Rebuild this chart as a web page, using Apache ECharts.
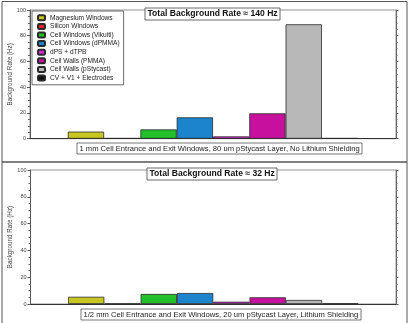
<!DOCTYPE html>
<html>
<head>
<meta charset="utf-8">
<script src="https://cdn.jsdelivr.net/npm/echarts@6/dist/echarts.min.js"></script>
<style>
  html, body { margin: 0; padding: 0; background: #fff; }
  #chart { width: 410px; height: 323px; }
</style>
</head>
<body>
<div id="chart"></div>
<script>
// Background contributions (Hz) per source, for the two detector configurations
const sources = [
  'Magnesium Windows', 'Silicon Windows', 'Cell Windows (Vikuiti)', 'Cell Windows (dPMMA)',
  'dPS + dTPB', 'Cell Walls (PMMA)', 'Cell Walls (pStycast)', 'CV + V1 + Electrodes'
];
const sourceColors = ['#c8c620', '#e02424', '#22c02a', '#1c84cc', '#d828d0', '#c8109e', '#b8b8b8', '#111111'];
const ratesThick = [5.5, 0.5, 7.2, 16.6, 1.8, 19.7, 88.9, 0.5];
const ratesThin = [5.4, 0.3, 7.5, 8.2, 1.7, 5.0, 3.0, 0.4];
const panelTitles = ['Total Background Rate \u2248 140 Hz', 'Total Background Rate \u2248 32 Hz'];
const panelNotes = [
  '1 mm Cell Entrance and Exit Windows, 80 um pStycast Layer, No Lithium Shielding',
  '1/2 mm Cell Entrance and Exit Windows, 20 um pStycast Layer, Lithium Shielding'
];
const yTicks = { min: 0, max: 100, interval: 20 };
const yName = 'Background Rate (Hz)';

const FONT = '"Liberation Sans", Arial, sans-serif';
const grids = [
  { left: 30, top: 10, width: 366, height: 128.7 },
  { left: 30.5, top: 170, width: 365.5, height: 134 }
];

const xAxes = [], yAxes = [], series = [];
grids.forEach((g, gi) => {
  xAxes.push({
    type: 'category', gridIndex: gi, data: [''],
    axisLine: { lineStyle: { color: '#333', width: 1 } },
    axisTick: { show: false }, axisLabel: { show: false }
  });
  // left value axis
  yAxes.push({
    type: 'value', gridIndex: gi, position: 'left',
    min: yTicks.min, max: yTicks.max, interval: yTicks.interval,
    name: yName, nameLocation: 'middle', nameGap: 17, nameMoveOverlap: false,
    nameTextStyle: { fontFamily: FONT, fontSize: 6.3, color: '#444' },
    axisLine: { show: true, lineStyle: { color: '#555' } },
    axisTick: { show: true, length: 3, lineStyle: { color: '#555' } },
    minorTick: { show: true, splitNumber: 4, length: 2, lineStyle: { color: '#666' } },
    axisLabel: { fontFamily: FONT, fontSize: 5.5, color: '#444', margin: 4 },
    splitLine: { show: false }
  });
  // mirrored right axis, ticks only
  yAxes.push({
    type: 'value', gridIndex: gi, position: 'right',
    min: yTicks.min, max: yTicks.max, interval: yTicks.interval,
    axisLine: { show: true, lineStyle: { color: '#666' } },
    axisTick: { show: true, length: 2.5, lineStyle: { color: '#666' } },
    minorTick: { show: true, splitNumber: 4, length: 1.5, lineStyle: { color: '#777' } },
    axisLabel: { show: false },
    splitLine: { show: false }
  });
  const values = gi === 0 ? ratesThick : ratesThin;
  sources.forEach((name, si) => {
    series.push({
      type: 'bar', name: name,
      xAxisIndex: gi, yAxisIndex: gi * 2,
      data: [values[si]],
      barWidth: 36.3, barGap: '0%',
      itemStyle: { color: sourceColors[si], borderColor: '#2a2a2a', borderWidth: 0.8 }
    });
  });
});

const titles = [];
grids.forEach((g, gi) => {
  titles.push({
    text: panelTitles[gi], left: gi === 0 ? 145 : 147, top: gi === 0 ? 8 : 168,
    padding: [1.5, 2.5],
    backgroundColor: '#fff', borderColor: '#444', borderWidth: 0.8,
    textStyle: { fontFamily: FONT, fontSize: 8.6, fontWeight: 'bold', color: '#111' }
  });
  titles.push({
    text: panelNotes[gi], left: gi === 0 ? 77 : 81, top: gi === 0 ? 143 : 309,
    padding: [1.5, 2.5],
    backgroundColor: '#fff', borderColor: '#555', borderWidth: 0.8,
    textStyle: { fontFamily: FONT, fontSize: 7.6, fontWeight: 'normal', color: '#222' }
  });
});

const chart = echarts.init(document.getElementById('chart'), null, { renderer: 'canvas' });
chart.setOption({
  animation: false,
  backgroundColor: '#fff',
  title: titles,
  legend: {
    data: sources, orient: 'vertical', left: 32, top: 11,
    padding: [3, 4, 3, 5],
    itemWidth: 7, itemHeight: 5, itemGap: 1,
    backgroundColor: '#fff', borderColor: '#444', borderWidth: 0.8,
    textStyle: { fontFamily: FONT, fontSize: 6.6, color: '#222', lineHeight: 7.6 }
  },
  grid: grids.map(g => Object.assign({
    show: true, borderColor: '#777', borderWidth: 0.8, backgroundColor: 'transparent',
    containLabel: false, outerBoundsMode: 'none'
  }, g)),
  xAxis: xAxes,
  yAxis: yAxes,
  series: series,
  graphic: [
    { type: 'rect', shape: { x: 2, y: 1.5, width: 405, height: 160.5 }, style: { fill: 'none', stroke: '#555', lineWidth: 1 }, z: 100 },
    { type: 'rect', shape: { x: 2, y: 162, width: 405, height: 165 }, style: { fill: 'none', stroke: '#555', lineWidth: 1 }, z: 100 }
  ]
});
</script>
</body>
</html>
